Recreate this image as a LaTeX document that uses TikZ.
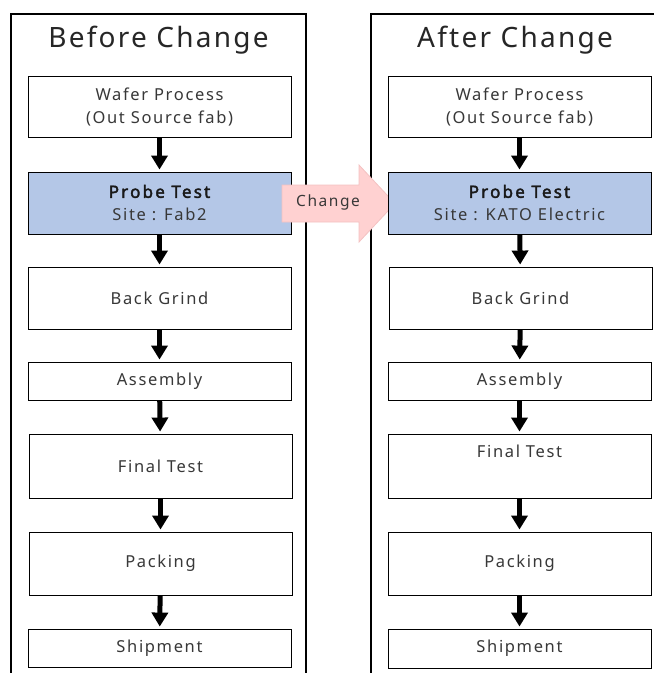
\documentclass[tikz,border=0pt]{standalone}
\usepackage{fontspec}
\setmainfont{Noto Sans}
\newfontfamily\boxfont{Noto Sans}[LetterSpace=10]
\newfontfamily\boxboldfont{Noto Sans}[LetterSpace=13, FakeBold=2.2]
\newfontfamily\titlefont{Noto Sans}[LetterSpace=8]
\usepackage{tikz}
\usetikzlibrary{arrows.meta,positioning,calc}
\definecolor{probeblue}{HTML}{B4C7E7}
\definecolor{changepink}{HTML}{FFD1D1}
\definecolor{changeline}{HTML}{F3C2C2}
\definecolor{textgray}{HTML}{383838}
\tikzset{
	panel/.style={line width=1.2pt},
	stepbox/.style={draw, line width=.9pt, fill=white, minimum width=263pt, inner sep=0pt,
		text=textgray, align=center, font=\boxfont\fontsize{16.5}{23}\selectfont},
	probe/.style={stepbox, fill=probeblue},
	flow/.style={line width=5pt, shorten >=2pt, -{Triangle[width=16pt,length=14pt]}},
	title/.style={text=black!85, font=\titlefont\fontsize{28}{30}\selectfont}
}
\newcommand{\probetext}[1]{{\color{black!90}\boxboldfont\fontsize{17}{23}\selectfont Probe Test}\\#1}
\begin{document}
\begin{tikzpicture}[x=1pt, y=-1pt]
	\useasboundingbox (0,0) rectangle (654,673);
	\draw[panel] (11,675) -- (11,14) -- (306,14) -- (306,675);
	\draw[panel] (371,675) -- (371,14) -- (656,14);
	\node[title] (tbefore) at (158.5,40) {Before Change};
	\node[title] (tafter) at (515,40) {After Change};
%
	\node[stepbox, minimum height=61pt] (lwafer) at (159.5,106.5) {Wafer Process\\(Out Source fab)};
	\node[probe, minimum height=62pt] (lprobe) at (159.5,203) {\probetext{Site : Fab2}};
	\node[stepbox, minimum height=62pt] (lgrind) at (159.5,298) {Back Grind};
	\node[stepbox, minimum height=38pt] (lasm) at (159.5,381) {Assembly};
	\node[stepbox, minimum height=64pt] (lfinal) at (160.5,466) {Final Test};
	\node[stepbox, minimum height=63pt] (lpack) at (160.5,563.5) {Packing};
	\node[stepbox, minimum height=38pt] (lship) at (159.5,648) {Shipment};
%
	\draw[changeline, fill=changepink, line width=.8pt] (282,185) -- (359,185) -- (359,165) --
		(395,203.5) -- (359,242) -- (359,222) -- (282,222) -- cycle;
	\node[text=textgray, font=\boxfont\fontsize{15.5}{16}\selectfont] (chg) at (328,202) {Change};
%
	\node[stepbox, minimum height=61pt] (rwafer) at (519.5,106.5) {Wafer Process\\(Out Source fab)};
	\node[probe, minimum height=62pt] (rprobe) at (519.5,203) {\probetext{Site : KATO Electric}};
	\node[stepbox, minimum height=62pt] (rgrind) at (520.5,298) {Back Grind};
	\node[stepbox, minimum height=38pt] (rasm) at (519.5,381) {Assembly};
	\node[stepbox, minimum height=64pt] (rfinal) at (519.5,466) {};
	\node[text=textgray, font=\boxfont\fontsize{16.5}{23}\selectfont, below=8pt of rfinal.north] (rfinaltxt) {Final Test};
	\node[stepbox, minimum height=63pt] (rpack) at (519.5,563.5) {Packing};
	\node[stepbox, minimum height=39pt] (rship) at (519.5,648.5) {Shipment};
%
	\foreach \a/\b in {wafer/probe, probe/grind, grind/asm, asm/final, final/pack, pack/ship}{
		\draw[flow] (l\a) -- (l\b);
		\draw[flow] (r\a) -- (r\b);
	}
\end{tikzpicture}
\end{document}
